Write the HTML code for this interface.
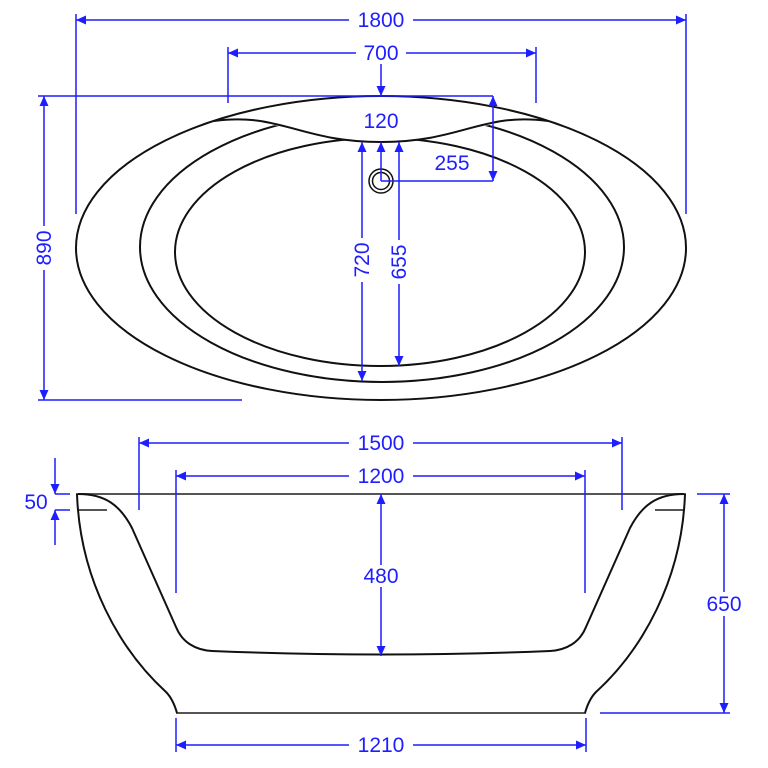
<!DOCTYPE html>
<html><head><meta charset="utf-8"><style>
html,body{margin:0;padding:0;background:#fff}
svg{display:block}
text{font-family:"Liberation Sans",sans-serif;font-size:21px;fill:#1e1eff}
</style></head><body>
<svg width="768" height="768" viewBox="0 0 768 768" xmlns="http://www.w3.org/2000/svg">
<defs>
<marker id="a" viewBox="0 0 10 10" refX="10" refY="5" markerWidth="14" markerHeight="10" markerUnits="userSpaceOnUse" orient="auto-start-reverse">
<path d="M0,0.5 L10,5 L0,9.5 Z" fill="#1e1eff"/></marker>
</defs>
<g fill="none" stroke="#111" stroke-width="2">
<ellipse cx="382" cy="247" rx="242" ry="135"/>
<ellipse cx="380" cy="252" rx="205" ry="114"/>
</g>
<path d="M205 124 C280 113 300 142 381 142 C462 142 482 113 557 124 L557 80 L205 80 Z" fill="#fff"/>
<g fill="none" stroke="#111" stroke-width="2">
<ellipse cx="381" cy="248" rx="305" ry="152"/>
<path d="M214 121 C280 112 300 142 381 142 C462 142 482 112 548 121"/>
<circle cx="381" cy="181" r="12" stroke-width="1.5"/>
<circle cx="381" cy="181" r="8.5" stroke-width="1.5"/>
<line x1="76" y1="494" x2="686" y2="494" stroke="#555"/>
<line x1="78" y1="510" x2="107" y2="510" stroke="#555"/>
<line x1="655" y1="510" x2="684" y2="510" stroke="#555"/>
<line x1="176" y1="713" x2="586" y2="713" stroke="#555"/>
<path d="M77 494 C80 580 120 650 166 692 C172 698 175 706 177 713"/>
<path d="M685 494 C682 580 642 650 596 692 C590 698 587 706 585 713"/>
<path d="M78 494 C105 494 120 505 132 528 L176 627 C182 642 195 650 212 651 Q381 658 550 651 C567 650 580 642 586 627 L630 528 C642 505 657 494 684 494"/>
</g>
<g stroke="#1e1eff" stroke-width="1.5" fill="none">
<line x1="76" y1="14" x2="76" y2="214"/><line x1="686" y1="14" x2="686" y2="214"/>
<line x1="76" y1="20" x2="686" y2="20" marker-start="url(#a)" marker-end="url(#a)"/>
<line x1="228" y1="47" x2="228" y2="103"/><line x1="536" y1="47" x2="536" y2="103"/>
<line x1="228" y1="53" x2="536" y2="53" marker-start="url(#a)" marker-end="url(#a)"/>
<line x1="381" y1="53" x2="381" y2="96" marker-end="url(#a)"/>
<line x1="38" y1="96" x2="493" y2="96"/><line x1="38" y1="400" x2="242" y2="400"/>
<line x1="44" y1="96" x2="44" y2="400" marker-start="url(#a)" marker-end="url(#a)"/>
<line x1="493" y1="96" x2="493" y2="181" marker-start="url(#a)" marker-end="url(#a)"/>
<line x1="381" y1="181" x2="493" y2="181"/>
<line x1="362" y1="142" x2="362" y2="381" marker-start="url(#a)" marker-end="url(#a)"/>
<line x1="399" y1="142" x2="399" y2="366" marker-start="url(#a)" marker-end="url(#a)"/>
<line x1="381" y1="181" x2="381" y2="142" marker-end="url(#a)"/>
<line x1="139" y1="437" x2="139" y2="510"/><line x1="622" y1="437" x2="622" y2="510"/>
<line x1="139" y1="443" x2="622" y2="443" marker-start="url(#a)" marker-end="url(#a)"/>
<line x1="176" y1="470" x2="176" y2="593"/><line x1="585" y1="470" x2="585" y2="593"/>
<line x1="176" y1="476" x2="585" y2="476" marker-start="url(#a)" marker-end="url(#a)"/>
<line x1="381" y1="494" x2="381" y2="656" marker-start="url(#a)" marker-end="url(#a)"/>
<line x1="697" y1="494" x2="730" y2="494"/><line x1="600" y1="713" x2="730" y2="713"/>
<line x1="724" y1="494" x2="724" y2="713" marker-start="url(#a)" marker-end="url(#a)"/>
<line x1="55" y1="458" x2="55" y2="494" marker-end="url(#a)"/>
<line x1="55" y1="545" x2="55" y2="510" marker-end="url(#a)"/>
<line x1="55" y1="494" x2="70" y2="494"/><line x1="55" y1="510" x2="70" y2="510"/>
<line x1="176" y1="718" x2="176" y2="752"/><line x1="586" y1="718" x2="586" y2="752"/>
<line x1="176" y1="745" x2="586" y2="745" marker-start="url(#a)" marker-end="url(#a)"/>
</g>
<g text-anchor="middle">
<rect x="349" y="9" width="64" height="22" fill="#fff"/><text x="381" y="27">1800</text>
<rect x="356" y="42" width="50" height="22" fill="#fff"/><text x="381" y="60">700</text>
<text x="381" y="128">120</text>
<text x="452" y="170">255</text>
<rect x="33" y="226" width="22" height="44" fill="#fff"/><text transform="translate(51,248) rotate(-90)">890</text>
<rect x="351" y="238" width="22" height="44" fill="#fff"/><text transform="translate(369,260) rotate(-90)">720</text>
<rect x="388" y="240" width="22" height="44" fill="#fff"/><text transform="translate(406,262) rotate(-90)">655</text>
<rect x="349" y="432" width="64" height="22" fill="#fff"/><text x="381" y="450">1500</text>
<rect x="349" y="465" width="64" height="22" fill="#fff"/><text x="381" y="483">1200</text>
<rect x="356" y="565" width="50" height="22" fill="#fff"/><text x="381" y="583">480</text>
<rect x="700" y="592" width="48" height="24" fill="#fff"/><text x="724" y="611">650</text>
<text x="36" y="509">50</text>
<rect x="349" y="734" width="64" height="22" fill="#fff"/><text x="381" y="752">1210</text>
</g>
</svg>
</body></html>
